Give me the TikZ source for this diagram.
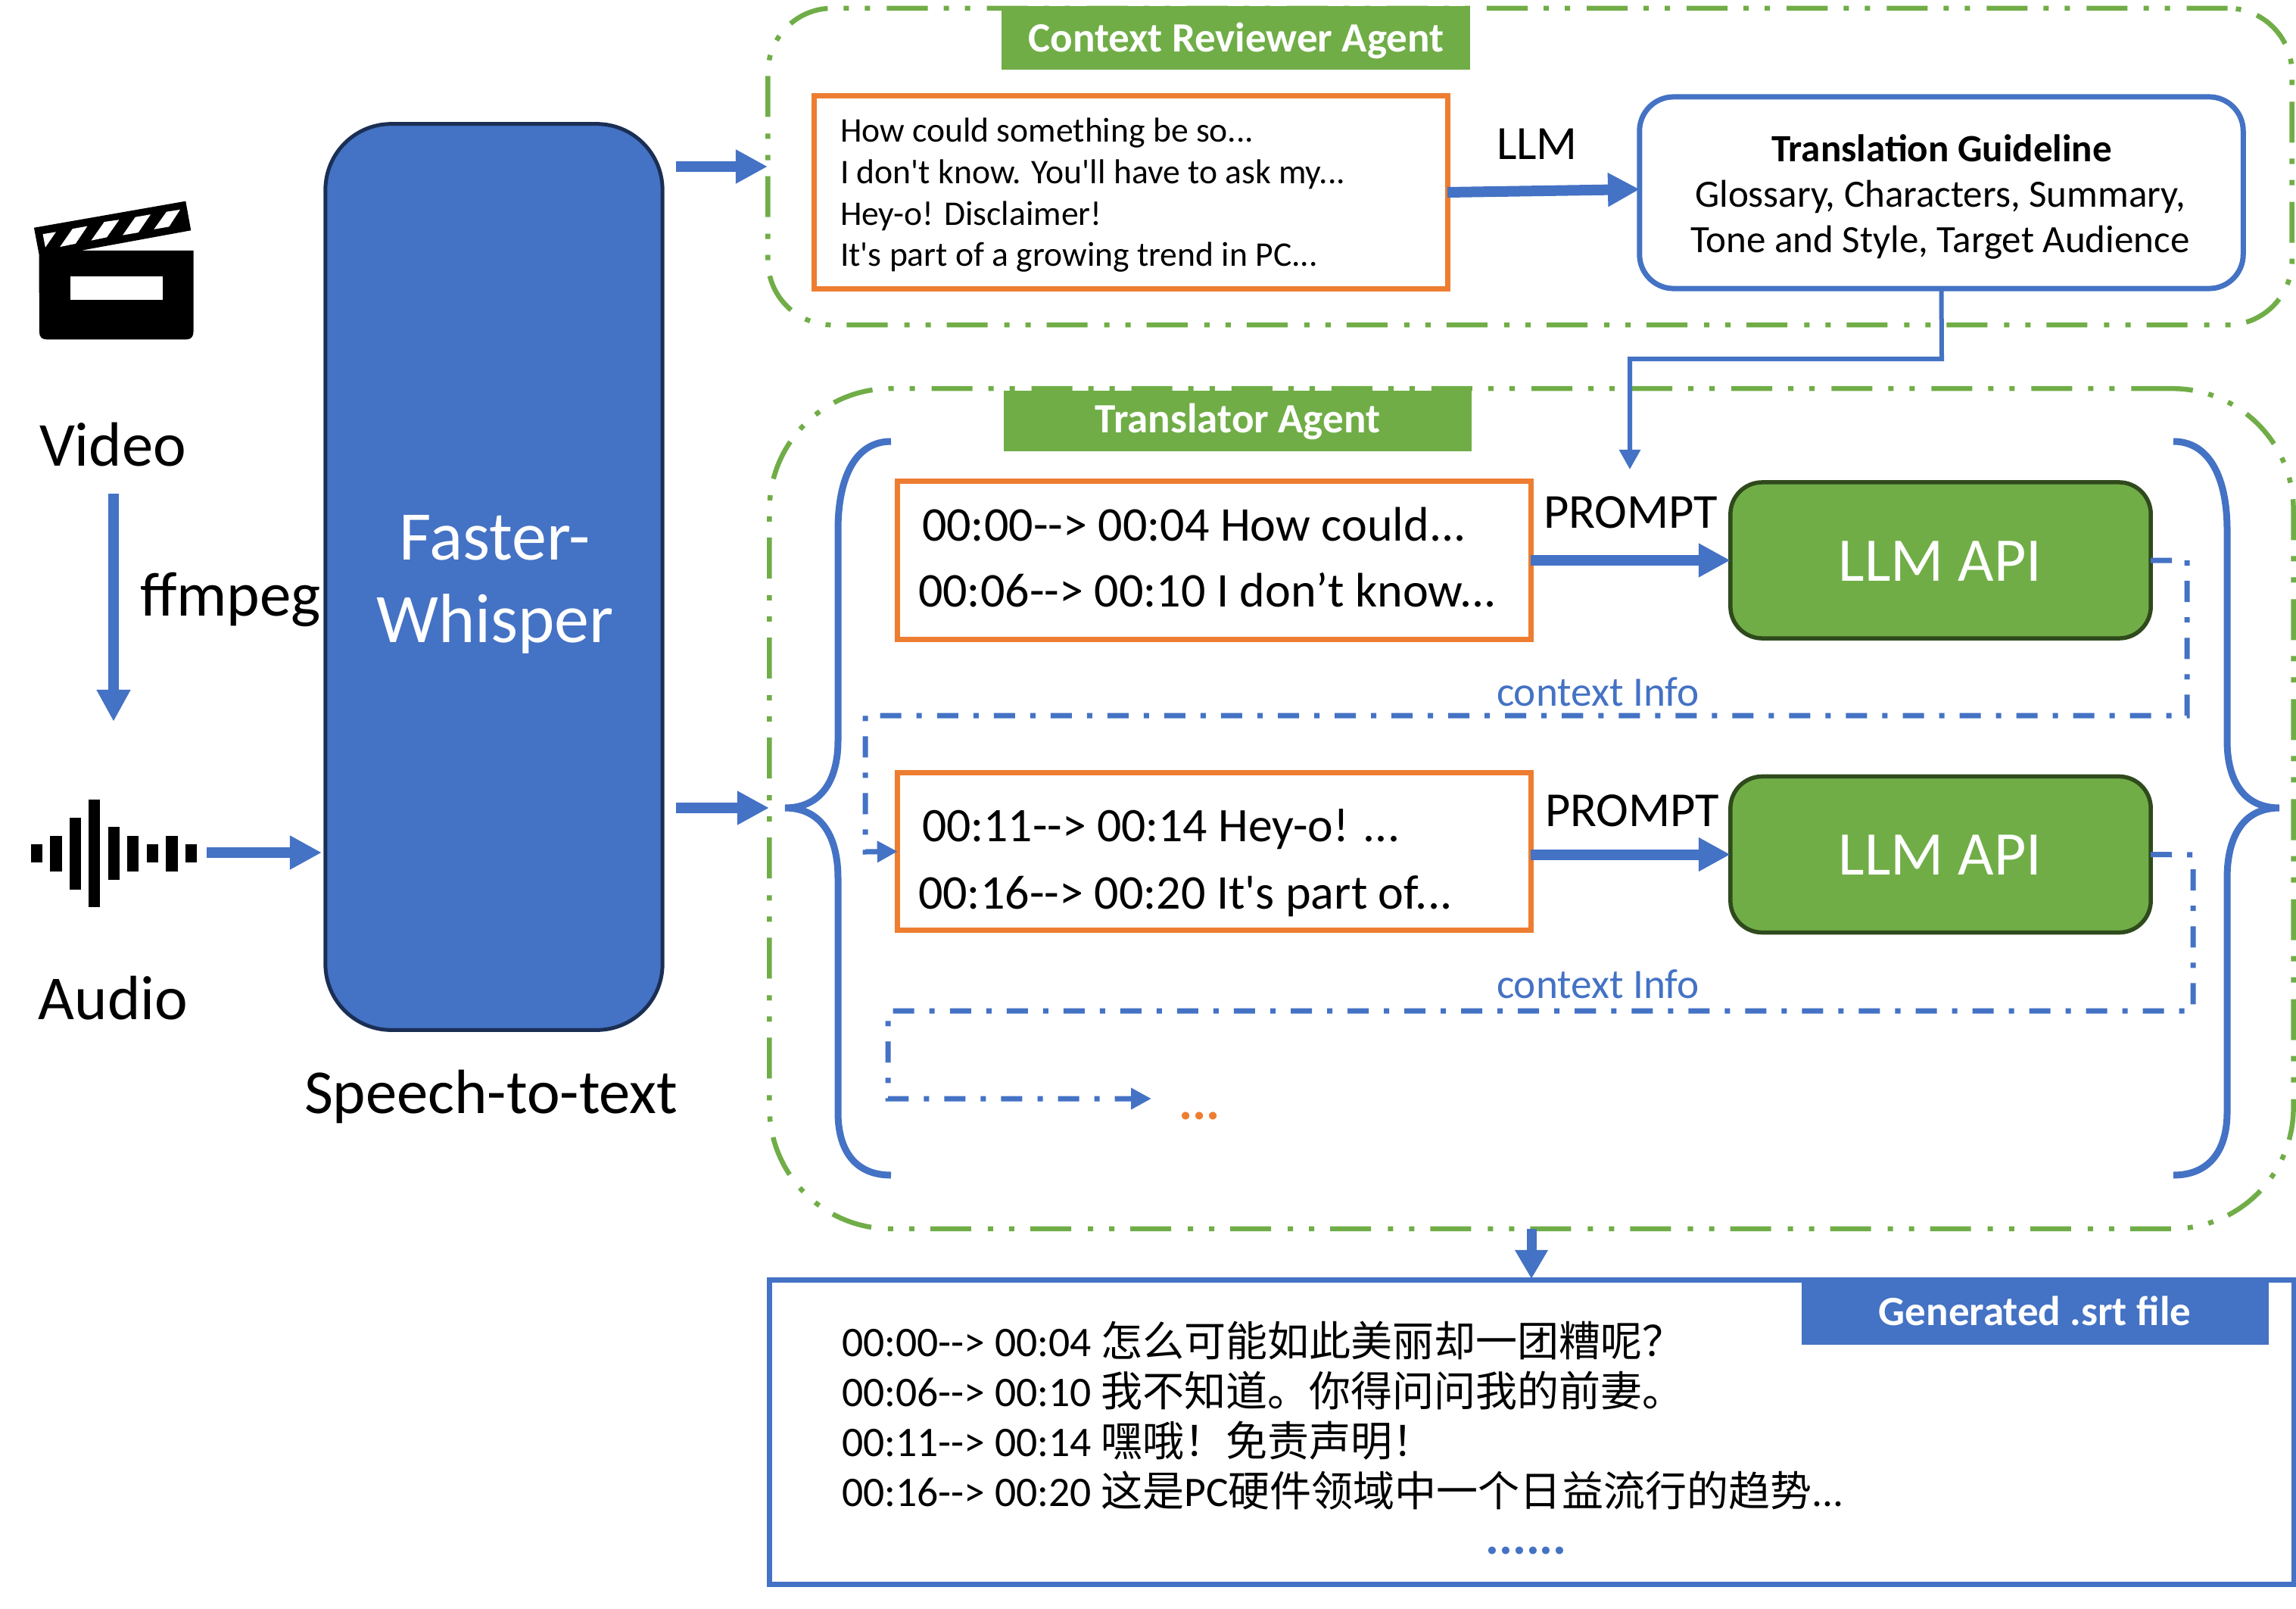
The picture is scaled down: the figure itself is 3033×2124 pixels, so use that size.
\documentclass[tikz,border=0pt]{standalone}
\usepackage{fontspec}
\usetikzlibrary{arrows.meta}
\setmainfont{Carlito}[Ligatures=TeXOff]
\newfontfamily\cjk{Noto Sans CJK SC}
\newcommand{\px}[1]{\fontsize{\fpeval{#1*0.28453}}{\fpeval{#1*1.2*0.28453}}\selectfont}
\definecolor{bl}{HTML}{4472C4}
\definecolor{gr}{HTML}{70AD47}
\definecolor{og}{HTML}{ED7D31}
\definecolor{dg}{HTML}{2F4A1C}
\definecolor{db}{HTML}{1B2F55}
\tikzset{
 txt/.style={anchor=base west,inner sep=0pt,outer sep=0pt,text=black},
 ctr/.style={anchor=base,inner sep=0pt,outer sep=0pt},
 boxo/.style={draw=og,line width=.07cm,fill=white,inner sep=0pt,outer sep=0pt},
 greenbox/.style={draw=gr,line width=.065cm,inner sep=0pt,outer sep=0pt,dash pattern=on .54cm off .22cm on .07cm off .21cm on .07cm off .21cm},
 bluedash/.style={draw=bl,line width=.07cm,dash pattern=on .28cm off .20cm on .07cm off .20cm},
 head/.style={inner sep=0pt,outer sep=0pt,fill=gr},
 headtxt/.style={ctr,text=white,font=\px{55}\bfseries},
 llmbox/.style={draw=dg,line width=.055cm,fill=gr,rounded corners=.42cm,minimum width=5.55cm,minimum height=2.06cm,inner sep=0pt,outer sep=0pt,text=white,font=\px{80}},
 bigarrow/.style={draw=bl,line width=.14cm,-{Triangle[length=.42cm,width=.42cm]}},
 brace/.style={draw=bl,line width=.09cm},
 cjkline/.style={txt,font=\px{55.6}},
}
\newcommand{\cj}[1]{{\cjk\px{55}#1}}
\begin{document}
\begin{tikzpicture}[x=.01cm,y=-.01cm]
\useasboundingbox (0,0) rectangle (3033,2124);
% Icons
\begin{scope}[shift={(0,220)},x=.003333cm,y=-.007018cm]
 \fill[black] (135,115) -- (737,65) -- (758,120) -- (320,158) -- (768,158) -- (768,310) .. controls (768,320) and (758,325) .. (740,325) -- (185,325) .. controls (165,325) and (156,320) .. (156,310) -- (155,165) -- cycle;
 \fill[white] (278,206) rectangle (645,250);
 \fill[white] (170,127) -- (222,123) -- (180,152) -- cycle;
 \fill[white] (288,117) -- (347,112) -- (300,145) -- (238,151) -- cycle;
 \fill[white] (414,104) -- (473,100) -- (424,133) -- (362,139) -- cycle;
 \fill[white] (537,95) -- (598,90) -- (549,124) -- (487,129) -- cycle;
 \fill[white] (661,85) -- (715,81) -- (671,113) -- (611,118) -- cycle;
 \fill[black] (122,1275) rectangle (168,1308);
 \fill[black] (199,1258) rectangle (245,1325);
 \fill[black] (276,1224) rectangle (321,1360);
 \fill[black] (352,1190) rectangle (398,1393);
 \fill[black] (429,1241) rectangle (474,1342);
 \fill[black] (505,1258) rectangle (551,1325);
 \fill[black] (582,1275) rectangle (628,1308);
 \fill[black] (659,1258) rectangle (705,1325);
 \fill[black] (735,1275) rectangle (781,1308);
\end{scope}
\node[txt,font=\px{82.6}] (video) at (52,615) {Video};
\node[txt,font=\px{83}] (ffm) at (185,813) {ffmpeg};
\node[txt,font=\px{82.6}] (audio) at (51,1346) {Audio};
\node[txt,font=\px{82.6}] (s2t) at (402,1470) {Speech-to-text};
% Whisper
\node[draw=db,line width=.05cm,fill=bl,rounded corners=.87cm,minimum width=4.45cm,minimum height=11.96cm,inner sep=0pt,outer sep=0pt] (whisper) at (652.5,762) {};
\node[ctr,text=white,font=\px{92}] (wh1) at (654,739) {Faster-};
\node[ctr,text=white,font=\px{92}] (wh2) at (654,848) {Whisper};
% Green containers
\node[greenbox,rounded corners=.85cm,minimum width=20.12cm,minimum height=4.18cm] (ctxbox) at (2021,220) {};
\node[greenbox,rounded corners=1.6cm,minimum width=20.12cm,minimum height=11.09cm] (trbox) at (2023,1068) {};
\node[head,minimum width=6.19cm,minimum height=.84cm] (ctxhead) at (1632.5,50) {};
\node[head,minimum width=6.18cm,minimum height=.80cm] (trhead) at (1635,556) {};
\node[headtxt] (ctxlabel) at (1633,68) {Context Reviewer Agent};
\node[headtxt] (trlabel) at (1635,571) {Translator Agent};
% Context box
\node[boxo,minimum width=8.36cm,minimum height=2.54cm] (review) at (1494,254) {};
\node[txt,font=\px{45.6}] (r1) at (1110,187) {How could something be so...};
\node[txt,font=\px{45.6}] (r2) at (1110,242) {I don't know. You'll have to ask my...};
\node[txt,font=\px{45.6}] (r3) at (1110,297) {Hey-o! Disclaimer!};
\node[txt,font=\px{45.6}] (r4) at (1110,351) {It's part of a growing trend in PC...};
\node[txt,font=\px{63}] (llmlab) at (1977,210) {LLM};
\node[draw=bl,line width=.07cm,fill=white,rounded corners=.45cm,minimum width=7.97cm,minimum height=2.53cm,inner sep=0pt,outer sep=0pt] (guide) at (2564.5,254.5) {};
\node[ctr,font=\px{51}\bfseries] (g1) at (2565,213) {Translation Guideline};
\node[ctr,font=\px{51}] (g2) at (2563,273) {Glossary, Characters, Summary,};
\node[ctr,font=\px{51}] (g3) at (2563,333) {Tone and Style, Target Audience};
% Braces
\draw[brace] (1177,583) .. controls (1130,583) and (1107,630) .. (1107,700) -- (1107,978) .. controls (1107,1030) and (1085,1067) .. (1037,1067) .. controls (1085,1067) and (1107,1105) .. (1107,1160) -- (1107,1469) .. controls (1107,1520) and (1130,1552) .. (1177,1552);
\draw[brace] (2871,583) .. controls (2918,583) and (2942,630) .. (2942,700) -- (2942,978) .. controls (2942,1030) and (2963,1067) .. (3011,1067) .. controls (2963,1067) and (2942,1105) .. (2942,1160) -- (2942,1469) .. controls (2942,1520) and (2918,1552) .. (2871,1552);
% Orange boxes
\node[boxo,minimum width=8.36cm,minimum height=2.08cm] (o1) at (1604,740) {};
\node[boxo,minimum width=8.36cm,minimum height=2.07cm] (o2) at (1604,1124.5) {};
\node[txt,font=\px{64}] (t1) at (1218,714) {00:00--> 00:04 How could...};
\node[txt,font=\px{64}] (t2) at (1213,801) {00:06--> 00:10 I don’t know...};
\node[txt,font=\px{63.6}] (t3) at (1218,1111) {00:11--> 00:14 Hey-o! ...};
\node[txt,font=\px{64}] (t4) at (1213,1200) {00:16--> 00:20 It's part of...};
% LLM API
\node[llmbox] (api1) at (2563.5,740) {};
\node[llmbox] (api2) at (2563.5,1128.5) {};
\node[ctr,text=white,font=\px{82}] (a1) at (2563,767) {LLM API};
\node[ctr,text=white,font=\px{82}] (a2) at (2563,1155) {LLM API};
\node[txt,font=\px{64.5}] (p1) at (2039,697) {PROMPT};
\node[txt,font=\px{64.5}] (p2) at (2041,1091) {PROMPT};
\node[txt,text=bl,font=\px{55.2}] (ci1) at (1977,932) {context Info};
\node[txt,text=bl,font=\px{55.2}] (ci2) at (1977,1318) {context Info};
\node[txt,text=og,font=\px{68}\bfseries] (dots) at (1557,1478) {...};
% Output
\node[draw=bl,line width=.07cm,fill=white,minimum width=20.13cm,minimum height=4.01cm,inner sep=0pt,outer sep=0pt] (srt) at (2023.5,1891.5) {};
\node[inner sep=0pt,outer sep=0pt,fill=bl,minimum width=6.17cm,minimum height=.85cm] (srthead) at (2688.5,1733.5) {};
\node[headtxt] (srtlabel) at (2688,1750) {Generated .srt file};
\node[cjkline] (s1) at (1112,1791) {00:00--> 00:04 \cj{怎么可能如此美丽却一团糟呢？}};
\node[cjkline] (s2) at (1112,1857) {00:06--> 00:10 \cj{我不知道。你得问问我的前妻。}};
\node[cjkline] (s3) at (1112,1923) {00:11--> 00:14 \cj{嘿哦！免责声明！}};
\node[cjkline] (s4) at (1112,1989) {00:16--> 00:20 \cj{这是}PC\cj{硬件领域中一个日益流行的趋势}...};
\node[ctr,text=bl,font=\px{67}\bfseries] (more) at (2016,2052) {......};
% Connectors
\coordinate (va) at (150,652);
\coordinate (vb) at (150,953);
\coordinate (aa) at (273,1126);
\coordinate (ab) at (425,1126);
\coordinate (wa) at (893,220);
\coordinate (wb) at (1014,220);
\coordinate (wc) at (893,1067);
\coordinate (wd) at (1016,1067);
\coordinate (la) at (1912,254);
\coordinate (lb) at (2166,250);
\draw[bigarrow] (va) -- (vb);
\draw[bigarrow] (aa) -- (ab);
\draw[bigarrow] (wa) -- (wb);
\draw[bigarrow] (wc) -- (wd);
\draw[bigarrow] (la) -- (lb);
\draw[bigarrow] (o1.east) -- (api1.west);
\draw[bigarrow] (o2.east |- api2.west) -- (api2.west);
\coordinate (ga) at (2565,474);
\coordinate (gb) at (2153,474);
\coordinate (gc) at (2153,620);
\draw[draw=bl,line width=.06cm,-{Triangle[length=.26cm,width=.27cm]}] (guide.south) -- (ga) -- (gb) -- (gc);
\coordinate (c1a) at (2889,740);
\coordinate (c1b) at (2889,945);
\coordinate (c1c) at (1143,945);
\coordinate (c1d) at (1143,1125);
\draw[bluedash,-{Triangle[length=.27cm,width=.27cm]}] (api1.east) -- (c1a) -- (c1b) -- (c1c) -- (c1d) -- (o2.west);
\coordinate (c2a) at (2897,1129);
\coordinate (c2b) at (2897,1335);
\coordinate (c2c) at (1173,1335);
\coordinate (c2d) at (1173,1451);
\coordinate (c2e) at (1521,1451);
\draw[bluedash,-{Triangle[length=.27cm,width=.27cm]}] (api2.east) -- (c2a) -- (c2b) -- (c2c) -- (c2d) -- (c2e);
\coordinate (oa) at (2023,1623);
\coordinate (ob) at (2023,1689);
\draw[draw=bl,line width=.13cm,-{Triangle[length=.38cm,width=.41cm]}] (oa) -- (ob);
\end{tikzpicture}
\end{document}
